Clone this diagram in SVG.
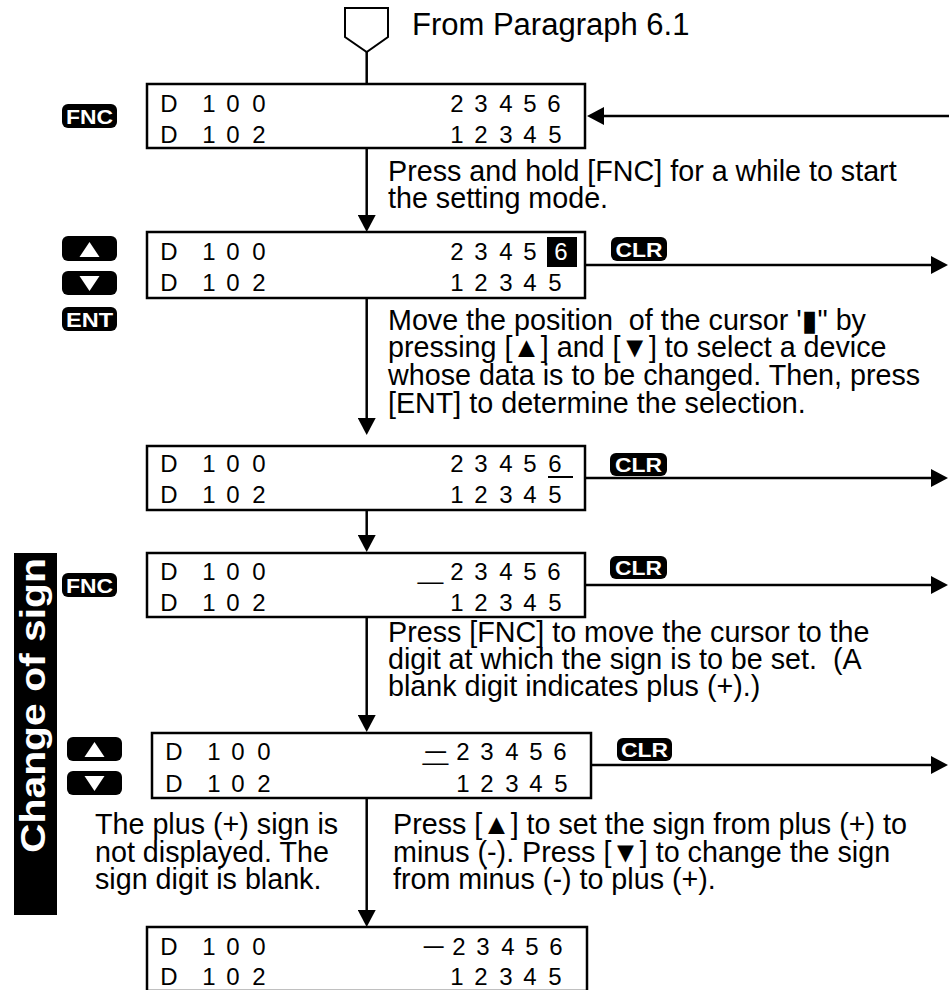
<svg xmlns="http://www.w3.org/2000/svg" width="949" height="990" viewBox="0 0 949 990">
<style>
.t{font-family:"Liberation Sans",Arial,sans-serif;font-size:28.7px;fill:#000}
.h{font-family:"Liberation Sans",Arial,sans-serif;font-size:31px;fill:#000}
.lcd{font-family:"Liberation Sans",Arial,sans-serif;font-size:24px;fill:#000;text-anchor:middle}
.box{fill:#fff;stroke:#000;stroke-width:2.5}
.key{fill:#000}
.kt{font-family:"Liberation Sans",Arial,sans-serif;font-size:21px;font-weight:bold;fill:#fff;text-anchor:middle}
.tri{fill:#fff}
.ln{fill:none;stroke:#000;stroke-width:2.5}
.ar{fill:none;stroke:#000;stroke-width:2.5;marker-end:url(#ah)}
</style>
<defs>
<marker id="ah" markerUnits="userSpaceOnUse" markerWidth="17" markerHeight="18" refX="0" refY="9" orient="auto">
<path d="M0,0 L17,9 L0,18 z" fill="#000"/>
</marker>
</defs>
<rect width="949" height="990" fill="#fff"/>

<g id="side-label">
<rect x="14" y="553" width="43" height="362" fill="#000"/>
<text transform="translate(45,705.5) rotate(-90)" text-anchor="middle" textLength="295" lengthAdjust="spacingAndGlyphs" style="font-family:'Liberation Sans',Arial,sans-serif;font-size:35px;font-weight:bold;fill:#fff">Change of sign</text>
</g>

<g id="connectors">
<line class="ln" x1="366.7" y1="52" x2="366.7" y2="84"/>
<line class="ar" x1="366.7" y1="148" x2="366.7" y2="215"/>
<line class="ar" x1="366.7" y1="298" x2="366.7" y2="418"/>
<line class="ar" x1="366.7" y1="510" x2="366.7" y2="535"/>
<line class="ar" x1="366.7" y1="617" x2="366.7" y2="715"/>
<line class="ar" x1="366.7" y1="798" x2="366.7" y2="910"/>
<line class="ar" x1="949" y1="116" x2="604" y2="116"/>
<line class="ar" x1="586" y1="265" x2="931" y2="265"/>
<line class="ar" x1="586" y1="478" x2="931" y2="478"/>
<line class="ar" x1="586" y1="585" x2="931" y2="585"/>
<line class="ar" x1="591" y1="765" x2="931" y2="765"/>
</g>

<g id="start">
<polygon points="345,8 388,8 388,37 366.7,52 345,37" fill="#fff" stroke="#000" stroke-width="2"/>
<text class="h" x="412" y="35">From Paragraph 6.1</text>
</g>

<g id="display1">
<rect class="box" x="147" y="84" width="438" height="64"/>
<text class="lcd" x="169 209 233 259" y="112">D100</text>
<text class="lcd" x="457 481 506 530 554" y="112">23456</text>
<text class="lcd" x="169 209 233 259" y="143">D102</text>
<text class="lcd" x="457 481 506 530 555" y="143">12345</text>
</g>
<g id="key-fnc1">
<rect class="key" x="62" y="104" width="55" height="24" rx="6"/>
<text class="kt" x="89.5" y="123.5" textLength="47" lengthAdjust="spacingAndGlyphs">FNC</text>
</g>
<g id="note1">
<text class="t" x="388" y="181">Press and hold [FNC] for a while to start</text>
<text class="t" x="388" y="208">the setting mode.</text>
</g>

<g id="display2">
<rect class="box" x="147" y="232" width="438" height="66"/>
<text class="lcd" x="169 209 233 259" y="260">D100</text>
<text class="lcd" x="457 481 506 530" y="260">2345</text>
<rect x="547" y="237" width="30" height="30" fill="#000"/>
<text class="lcd" x="561" y="260" style="fill:#fff">6</text>
<text class="lcd" x="169 209 233 259" y="291">D102</text>
<text class="lcd" x="457 481 506 530 555" y="291">12345</text>
</g>
<g id="keys2">
<rect class="key" x="62" y="236" width="55" height="25" rx="6"/>
<polygon class="tri" points="89.5,242 99.5,257 79.5,257"/>
<rect class="key" x="62" y="271" width="55" height="24" rx="6"/>
<polygon class="tri" points="79.5,276 99.5,276 89.5,291"/>
<rect class="key" x="62" y="307" width="55" height="24" rx="6"/>
<text class="kt" x="89.5" y="326.5" textLength="47" lengthAdjust="spacingAndGlyphs">ENT</text>
</g>
<g id="clr2">
<rect class="key" x="611" y="237" width="56" height="24" rx="6"/>
<text class="kt" x="639" y="256.5" textLength="47" lengthAdjust="spacingAndGlyphs">CLR</text>
</g>
<g id="note2">
<text class="t" x="388" y="330" xml:space="preserve">Move the position  of the cursor '<tspan style="font-family:'DejaVu Sans',sans-serif">▮</tspan>" by</text>
<text class="t" x="388" y="357">pressing [▲] and [▼] to select a device</text>
<text class="t" x="388" y="385">whose data is to be changed. Then, press</text>
<text class="t" x="388" y="413">[ENT] to determine the selection.</text>
</g>

<g id="display3">
<rect class="box" x="147" y="446" width="438" height="64"/>
<text class="lcd" x="169 209 233 259" y="472">D100</text>
<text class="lcd" x="457 481 506 530 555" y="472">23456</text>
<line x1="548" y1="477" x2="573" y2="477" stroke="#000" stroke-width="2"/>
<text class="lcd" x="169 209 233 259" y="503">D102</text>
<text class="lcd" x="457 481 506 530 555" y="503">12345</text>
</g>
<g id="clr3">
<rect class="key" x="610" y="453" width="57" height="23" rx="6"/>
<text class="kt" x="638.5" y="472" textLength="47" lengthAdjust="spacingAndGlyphs">CLR</text>
</g>

<g id="display4">
<rect class="box" x="147" y="553" width="438" height="64"/>
<text class="lcd" x="169 209 233 259" y="580">D100</text>
<text class="lcd" x="430.5" y="579" textLength="25" lengthAdjust="spacingAndGlyphs">_</text>
<text class="lcd" x="457 481 506 530 554" y="580">23456</text>
<text class="lcd" x="169 209 233 259" y="611">D102</text>
<text class="lcd" x="457 481 506 530 555" y="611">12345</text>
</g>
<g id="key-fnc4">
<rect class="key" x="62" y="573" width="55" height="24" rx="6"/>
<text class="kt" x="89.5" y="592.5" textLength="47" lengthAdjust="spacingAndGlyphs">FNC</text>
</g>
<g id="clr4">
<rect class="key" x="610" y="556" width="57" height="23" rx="6"/>
<text class="kt" x="638.5" y="575" textLength="47" lengthAdjust="spacingAndGlyphs">CLR</text>
</g>
<g id="note4">
<text class="t" x="388" y="642">Press [FNC] to move the cursor to the</text>
<text class="t" x="388" y="669" xml:space="preserve">digit at which the sign is to be set.  (A</text>
<text class="t" x="388" y="696">blank digit indicates plus (+).)</text>
</g>

<g id="display5">
<rect class="box" x="152" y="733" width="439" height="65"/>
<text class="lcd" x="174 214 238 264" y="760">D100</text>
<text class="lcd" x="435.5" y="760" textLength="25" lengthAdjust="spacingAndGlyphs">−</text>
<text class="lcd" x="435.5" y="760" textLength="25" lengthAdjust="spacingAndGlyphs">_</text>
<text class="lcd" x="463 487 512 536 560" y="760">23456</text>
<text class="lcd" x="174 214 238 264" y="792">D102</text>
<text class="lcd" x="463 487 512 536 561" y="792">12345</text>
</g>
<g id="keys5">
<rect class="key" x="67" y="737" width="55" height="24" rx="6"/>
<polygon class="tri" points="94.5,742 104.5,757 84.5,757"/>
<rect class="key" x="67" y="771" width="55" height="24" rx="6"/>
<polygon class="tri" points="84.5,776 104.5,776 94.5,791"/>
</g>
<g id="clr5">
<rect class="key" x="617" y="738" width="55" height="23" rx="6"/>
<text class="kt" x="644.5" y="757" textLength="47" lengthAdjust="spacingAndGlyphs">CLR</text>
</g>
<g id="note5">
<text class="t" x="95" y="834">The plus (+) sign is</text>
<text class="t" x="95" y="862">not displayed. The</text>
<text class="t" x="95" y="889">sign digit is blank.</text>
<text class="t" x="393" y="834">Press [▲] to set the sign from plus (+) to</text>
<text class="t" x="393" y="862">minus (-). Press [▼] to change the sign</text>
<text class="t" x="393" y="889">from minus (-) to plus (+).</text>
</g>

<g id="display6">
<rect class="box" x="147" y="927" width="440" height="64"/>
<text class="lcd" x="169 209 233 259" y="955">D100</text>
<text class="lcd" x="433.5" y="955" textLength="24" lengthAdjust="spacingAndGlyphs">−</text>
<text class="lcd" x="459 483 508 532 556" y="955">23456</text>
<text class="lcd" x="169 209 233 259" y="985">D102</text>
<text class="lcd" x="457 481 506 530 555" y="985">12345</text>
</g>
</svg>
